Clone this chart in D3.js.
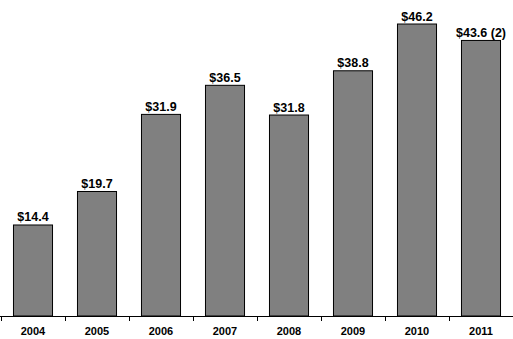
<!DOCTYPE html>
<html><head><meta charset="utf-8">
<script src="https://cdn.jsdelivr.net/npm/d3@7/dist/d3.min.js"></script>
<style>body{margin:0;background:#fff}svg{display:block}</style>
</head><body>
<svg id="c" width="513" height="339"></svg>
<script>
const years = ["2004","2005","2006","2007","2008","2009","2010","2011"];
const values = [14.4,19.7,31.9,36.5,31.8,38.8,46.2,43.6];
const labels = ["$14.4","$19.7","$31.9","$36.5","$31.8","$38.8","$46.2","$43.6 (2)"];

const svg = d3.select("#c");
const base = 316;
const x = d3.scaleBand().domain(years).range([1, 513]).paddingInner(0.39).paddingOuter(0.195);
const y = d3.scaleLinear().domain([0, 50]).range([base, 0]);

svg.selectAll("rect.bar").data(years).join("rect")
  .attr("class","bar")
  .attr("x", d => x(d)).attr("width", x.bandwidth())
  .attr("y", (d,i) => y(values[i])).attr("height", (d,i) => base - y(values[i]))
  .attr("fill","#808080").attr("stroke","#000").attr("stroke-width",1);

svg.selectAll("text.val").data(years).join("text")
  .attr("class","val")
  .attr("x", d => x(d) + x.bandwidth()/2)
  .attr("y", (d,i) => y(values[i]) - 3.5)
  .attr("text-anchor","middle")
  .attr("font-family","Liberation Sans, Arial, sans-serif")
  .attr("font-weight","bold").attr("font-size",12.5)
  .text((d,i) => labels[i]);

// axis
svg.append("line").attr("x1",0).attr("x2",513).attr("y1",base+0.5).attr("y2",base+0.5)
  .attr("stroke","#000").attr("stroke-width",1);
const ticks = d3.range(years.length+1).map(i => 1 + i*x.step());
svg.selectAll("line.tk").data(ticks).join("line").attr("class","tk")
  .attr("x1", d => d+0.5).attr("x2", d => d+0.5).attr("y1", base).attr("y2", base+5)
  .attr("stroke","#000");

svg.selectAll("text.yr").data(years).join("text")
  .attr("class","yr")
  .attr("x", d => x(d) + x.bandwidth()/2)
  .attr("y", 335)
  .attr("text-anchor","middle")
  .attr("font-family","Liberation Sans, Arial, sans-serif")
  .attr("font-weight","bold").attr("font-size",11)
  .text(d => d);
</script>
</body></html>
